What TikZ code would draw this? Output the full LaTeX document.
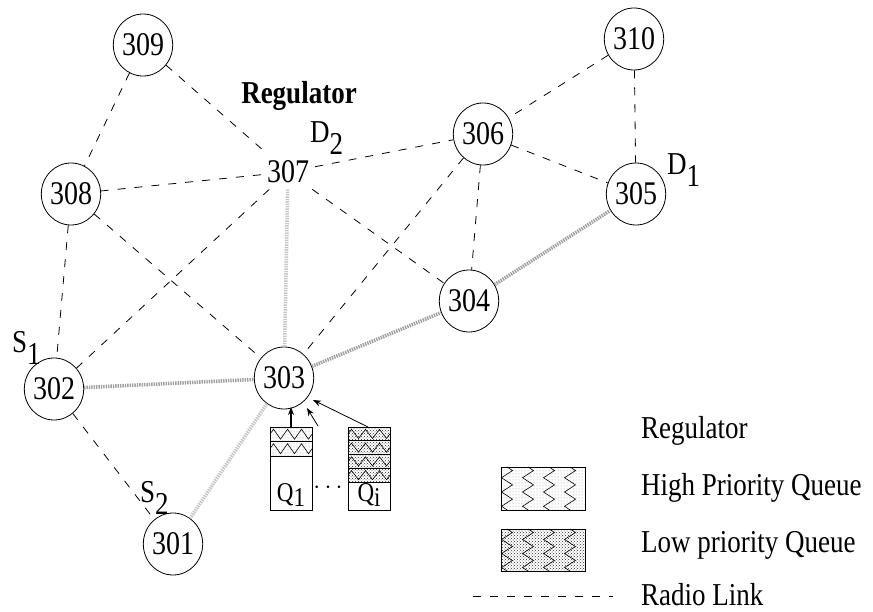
\documentclass[tikz,border=0pt]{standalone}
\usepackage{fontspec}
\usepackage{graphicx}
\setmainfont{Liberation Serif}
\usetikzlibrary{patterns,decorations.pathmorphing,arrows.meta,shapes.geometric}
\newcommand{\tl}[1]{\scalebox{1}[1.18]{#1}}
\newcommand{\sublbl}[2]{\tl{#1\raisebox{-10pt}{#2}}}
\begin{document}
\begin{tikzpicture}[x=1pt,y=-1pt,
  station/.style={ellipse,draw,line width=0.8pt,minimum width=57pt,minimum height=62pt,inner sep=0pt,font=\fontsize{28}{30}\selectfont},
  lbl/.style={font=\fontsize{27}{30}\selectfont,inner sep=0pt},
  qlbl/.style={font=\fontsize{23}{24}\selectfont,inner sep=0pt},
  radio/.style={line width=0.8pt,dash pattern=on 8pt off 9pt},
  route/.style={line width=3.6pt,draw=gray!75,dash pattern=on 1.4pt off 1pt},
  routelight/.style={line width=3.6pt,draw=gray!45,dash pattern=on 1.4pt off 1pt},
  hiq/.style={draw,line width=0.7pt,pattern=dots,pattern color=gray!80},
  loq/.style={draw,line width=0.7pt,pattern=crosshatch dots,pattern color=black!80},
  zz/.style={line width=0.6pt,decorate,decoration={zigzag,segment length=14pt,amplitude=5pt}},
  qarrow/.style={-{Stealth[length=8pt,width=6pt]},line width=0.8pt},
]
\path[use as bounding box] (0,0) rectangle (873,612);

% stations
\node[station] (n309) at (143,45) {\tl{309}};
\node[station] (n310) at (634,39) {\tl{310}};
\node[station] (n306) at (483,134) {\tl{306}};
\node[station] (n308) at (71,194) {\tl{308}};
\node[station] (n305) at (636,194) {\tl{305}};
\node[station] (n304) at (469,301) {\tl{304}};
\node[station] (n302) at (54,389) {\tl{302}};
\node[station] (n303) at (284,378) {\tl{303}};
\node[station] (n301) at (173,544) {\tl{301}};
\node[lbl,font=\fontsize{28}{30}\selectfont,inner sep=6pt] (n307) at (288,172) {\tl{307}};

% labels
\node[lbl,font=\fontsize{27}{30}\selectfont\bfseries] (reg) at (299,96) {\tl{Regulator}};
\node[lbl,anchor=west] (d2) at (310,138) {\sublbl{D}{2}};
\node[lbl,anchor=west] (d1) at (667,170) {\sublbl{D}{1}};
\node[lbl,anchor=west] (s1) at (12,348) {\sublbl{S}{1}};
\node[lbl,anchor=west] (s2) at (140,498) {\sublbl{S}{2}};

% radio links
\draw[radio] (n309) -- (n308);
\draw[radio] (n309) -- (n307);
\draw[radio] (n310) -- (n306);
\draw[radio] (n310) -- (n305);
\draw[radio] (n307) -- (n306);
\draw[radio] (n306) -- (n305);
\draw[radio] (n306) -- (n304);
\draw[radio] (n306) -- (n303);
\draw[radio] (n307) -- (n308);
\draw[radio] (n307) -- (n304);
\draw[radio] (n307) -- (n302);
\draw[radio] (n308) -- (n302);
\draw[radio] (n308) -- (n303);
\draw[radio] (n302) -- (n301);

% routes
\draw[route] (n302) -- (n303);
\draw[route] (n303) -- (n304);
\draw[route] (n304) -- (n305);
\draw[routelight] (n303) -- (n307);
\draw[routelight] (n303) -- (n301);

% queues
\draw[line width=0.7pt,fill=white] (270,427) rectangle (312,510);
\node[qlbl] (q1) at (291,495) {\tl{Q\raisebox{-4pt}{1}}};
\draw[hiq] (270,427) rectangle (312,441.5);
\draw[hiq] (270,441.5) rectangle (312,456);
\draw[zz] (270,434.2) -- (312,434.2);
\draw[zz] (270,448.7) -- (312,448.7);

\draw[line width=0.7pt,fill=white] (348,427) rectangle (390,510);
\node[qlbl] (qi) at (369,495) {\tl{Q\raisebox{-4pt}{i}}};
\foreach \k in {0,1,2,3}{
  \draw[loq] (348,427+13.75*\k) rectangle (390,427+13.75*\k+13.75);
  \draw[zz,decoration={zigzag,segment length=14pt,amplitude=4.5pt}] (348,433.9+13.75*\k) -- (390,433.9+13.75*\k);
}
\node[qlbl] (dots) at (328,488) {$\cdots$};

\coordinate (qtop1) at (291,427);
\coordinate (qmid) at (318,426);
\coordinate (qtopi) at (368,427);
\coordinate (e1) at (291,407);
\coordinate (e2) at (307,408);
\coordinate (e3) at (313,400);
\draw[qarrow,line width=1.4pt] (qtop1) -- (e1);
\draw[qarrow] (qmid) -- (e2);
\draw[qarrow] (qtopi) -- (e3);

% legend
\node[lbl,anchor=west] (lreg) at (641,431) {\tl{Regulator}};
\draw[hiq] (501,467) rectangle (585,510);
\foreach \xx in {507,528,549,570}{
  \draw[zz,decoration={zigzag,segment length=14.3pt,amplitude=5.5pt}] (\xx,467) -- (\xx,510);
}
\node[lbl,anchor=west] (lhi) at (641,488) {\tl{High Priority Queue}};
\draw[loq] (501,529) rectangle (585,571);
\foreach \xx in {507,528,549,570}{
  \draw[zz,decoration={zigzag,segment length=14pt,amplitude=5.5pt}] (\xx,529) -- (\xx,571);
}
\node[lbl,anchor=west] (llo) at (641,545) {\tl{Low priority Queue}};
\coordinate (rl1) at (473,596);
\coordinate (rl2) at (613,596);
\draw[radio] (rl1) -- (rl2);
\node[lbl,anchor=west] (lrl) at (641,595) {\tl{Radio Link}};
\end{tikzpicture}
\end{document}
